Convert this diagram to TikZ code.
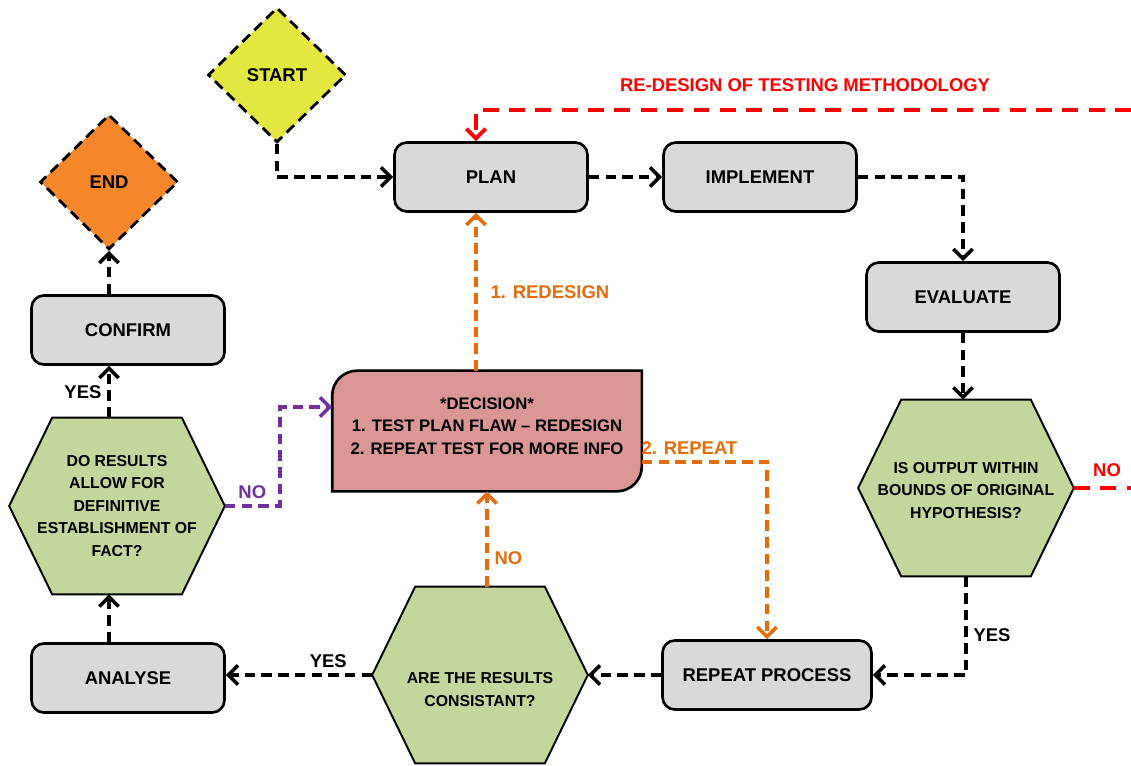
\documentclass[tikz,border=0pt]{standalone}
\usepackage{fontspec}
\setmainfont{Liberation Sans}
\usetikzlibrary{shapes.geometric, arrows.meta, backgrounds}

\definecolor{boxgray}{HTML}{D9D9D9}
\definecolor{hexgreen}{HTML}{C3D69B}
\definecolor{decred}{HTML}{D99694}
\definecolor{startyel}{HTML}{E3E841}
\definecolor{endorng}{HTML}{F5862A}
\definecolor{lineorng}{HTML}{E46C0A}
\definecolor{linepurp}{HTML}{7030A0}

\begin{document}
\begin{tikzpicture}[x=0.02cm, y=-0.02cm,
  every node/.style={font=\bfseries\fontsize{10.5}{12.5}\selectfont},
  proc/.style={draw, line width=1.5pt, fill=boxgray, rounded corners=7pt, minimum width=3.86cm, minimum height=1.38cm},
  term/.style={diamond, draw, line width=1.6pt, dash pattern=on 6pt off 3.5pt, minimum width=2.76cm, minimum height=2.7cm, inner sep=0pt},
  quest/.style={align=center, font=\bfseries\fontsize{9}{12.8}\selectfont, minimum width=4.3cm, minimum height=3.52cm, inner sep=0pt},
  flow/.style={line width=2pt, dash pattern=on 6pt off 3.5pt, -{Straight Barb[length=5.5pt,width=11pt]}}]
  \useasboundingbox (0,0) rectangle (1131,766);

  % start / end
  \node (start) [term, fill=startyel] at (277,75) {START};
  \node (end) [term, fill=endorng] at (109,182) {END};

  % process boxes
  \node (plan) [proc] at (491,177) {PLAN};
  \node (impl) [proc] at (760,177) {IMPLEMENT};
  \node (eval) [proc] at (963,297) {EVALUATE};
  \node (conf) [proc] at (128,330) {CONFIRM};
  \node (ana) [proc] at (128,678) {ANALYSE};
  \node (rep) [proc, minimum width=4.18cm] at (767,675) {REPEAT PROCESS};

  % questions
  \node (q1) [quest] at (117,506) {DO RESULTS\\ALLOW FOR\\DEFINITIVE\\ESTABLISHMENT OF\\FACT?};
  \node (q2) [quest] at (966,488) {\mbox{}\\[-4pt]IS OUTPUT WITHIN\\BOUNDS OF ORIGINAL\\HYPOTHESIS?};
  \node (q3) [quest] at (480,675) {\mbox{}\\[10pt]ARE THE RESULTS\\CONSISTANT?};

  \node (dec) [minimum width=6.18cm, minimum height=2.4cm] at (487,431) {};
  \node (dec-txt) [align=center, font=\bfseries\fontsize{9.5}{12.8}\selectfont] at (487,426)
    {*DECISION*\\1. TEST PLAN FLAW – REDESIGN\\2. REPEAT TEST FOR MORE INFO};

  \begin{scope}[on background layer]
    \foreach \q in {q1,q2,q3}
      \draw[line width=1.1pt, fill=hexgreen] (\q.west) -- ([xshift=0.86cm]\q.north west) -- ([xshift=-0.86cm]\q.north east)
        -- (\q.east) -- ([xshift=-0.86cm]\q.south east) -- ([xshift=0.86cm]\q.south west) -- cycle;
    \draw[line width=1.5pt, fill=decred] (dec.west) {[rounded corners=0.5cm] -- (dec.north west) -- (dec.north)}
      -- (dec.north east) -- (dec.east) {[rounded corners=0.5cm] -- (dec.south east) -- (dec.south)} -- (dec.south west) -- cycle;
  \end{scope}

  \coordinate (plan-top) at ([xshift=-0.3cm]plan.north);
  \coordinate (plan-bot) at ([xshift=-0.3cm]plan.south);
  \coordinate (redesign-in) at (1131,110);
  \coordinate (no-out) at (1131,488);
  \coordinate (dec-in) at ([yshift=0.48cm]dec.west);
  \coordinate (dec-out) at ([yshift=-0.62cm]dec.east);
  \coordinate (col) at (end.south);

  % main loop
  \draw[flow] (start.south) |- (plan.west);
  \draw[flow] (plan.east) -- (impl.west);
  \draw[flow] (impl.east) -| (eval.north);
  \draw[flow] (eval.south) -- (eval.south |- q2.north);
  \draw[flow] (q2.south) |- (rep.east) node (yes-q2) [pos=0.3, right] {YES};
  \draw[flow] (rep.west) -- (rep.west -| q3.east);
  \draw[flow] (q3.west) -- (q3.west -| ana.east) node (yes-q3) [pos=0.3, above] {YES};
  \draw[flow] (ana.north -| col) -- (q1.south -| col);
  \draw[flow] (q1.north -| col) -- (conf.south -| col) node (yes-q1) [midway, left] {YES};
  \draw[flow] (conf.north -| col) -- (end.south);

  % redesign
  \draw[flow, red, line width=2.2pt, dash pattern=on 9pt off 6pt, -] (q2.east) -- (no-out);
  \node (no-q2) [text=red] at (1107,470) {NO};
  \draw[flow, red, line width=2.2pt, dash pattern=on 9pt off 6pt] (redesign-in) -| (plan-top);
  \node (redesign-lbl) [text=red] at (805,85) {RE-DESIGN OF TESTING METHODOLOGY};

  % decision
  \draw[flow, linepurp] (q1.east) -- node (no-q1) [above] {NO} ++(55,0) |- (dec-in);
  \draw[flow, lineorng] (dec.south |- q3.north) -- (dec.south) node (no-q3) [pos=0.3, right] {NO};
  \draw[flow, lineorng] (plan-bot |- dec.north) -- (plan-bot) node (redesign-ol) [midway, right=4pt] {1. REDESIGN};
  \draw[flow, lineorng] (dec-out) -| (rep.north) node (repeat-ol) [pos=0.19, above] {2. REPEAT};
\end{tikzpicture}
\end{document}
